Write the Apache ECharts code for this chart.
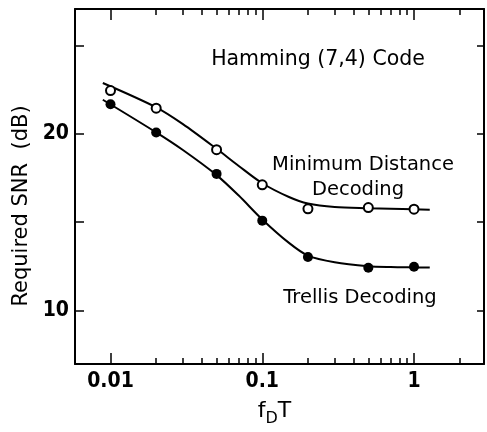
<!DOCTYPE html>
<html>
<head>
<meta charset="utf-8">
<script src="https://cdn.jsdelivr.net/npm/echarts@6/dist/echarts.min.js"></script>
<style>
html,body{margin:0;padding:0;background:#fff;}
#chart{width:487px;height:432px;}
</style>
</head>
<body>
<div id="chart"></div>
<script>
// ---- data ----
const fdT = [0.01, 0.02, 0.05, 0.1, 0.2, 0.5, 1];
const minDistPoints = [22.45, 21.45, 19.10, 17.11, 15.75, 15.82, 15.73];
const trellisPoints = [21.67, 20.07, 17.73, 15.08, 13.02, 12.41, 12.47];

const curveX = [0.0089, 0.02, 0.03, 0.05, 0.07, 0.1, 0.15, 0.2, 0.3, 0.5, 0.7, 1, 1.27];
const minDistCurve = [22.88, 21.5, 20.55, 19.15, 18.18, 17.2, 16.42, 16.05, 15.85, 15.78, 15.75, 15.72, 15.7];
const trellisCurve = [21.93, 20.08, 19.08, 17.66, 16.5, 15.15, 13.82, 13.1, 12.72, 12.5, 12.45, 12.43, 12.42];

const xMajorTicks = [0.01, 0.1, 1];
const xMinorTicks = [0.02,0.03,0.04,0.05,0.06,0.07,0.08,0.09,0.2,0.3,0.4,0.5,0.6,0.7,0.8,0.9,2];
const yTicks = [10, 15, 20, 25];
const yLabels = [10, 20];

const texts = {
  title: 'Hamming (7,4) Code',
  md1: 'Minimum Distance',
  md2: 'Decoding',
  tr: 'Trellis Decoding',
  yName: 'Required SNR  (dB)'
};

const zip = (xs, ys) => xs.map((x, i) => [x, ys[i]]);

const X_MIN = 0.005835, X_MAX = 2.892;
const Y_MIN = 6.96, Y_MAX = 27.07;
const TXT = "'DejaVu Sans', sans-serif";
const NUM = "'Liberation Sans Narrow', 'DejaVu Sans Condensed', 'Roboto Condensed', 'Liberation Sans', sans-serif";

function xAxisDef(pos, ticks, len, showLine, showLabel) {
  return {
    type: 'log', position: pos, min: X_MIN, max: X_MAX,
    axisLine: {show: showLine, onZero: false, lineStyle: {color: '#000', width: 2}},
    axisTick: {show: true, inside: true, length: len, customValues: ticks, lineStyle: {color: '#000', width: 1.5}},
    axisLabel: showLabel ? {show: true, customValues: xMajorTicks, margin: 7, color: '#000',
      fontFamily: NUM, fontWeight: 'bold', fontSize: 21, formatter: v => String(+v)} : {show: false},
    splitLine: {show: false}, minorTick: {show: false}
  };
}

const chart = echarts.init(document.getElementById('chart'), null, {renderer: 'canvas'});
const option = {
  backgroundColor: '#fff',
  animation: false,
  grid: {left: 75, top: 9, width: 409, height: 364},
  xAxis: [
    Object.assign(xAxisDef('bottom', xMajorTicks, 11, true, true), {
      name: '{a|f}{b|D}{a|T}', nameLocation: 'middle', nameGap: 32,
      nameTextStyle: {padding: [0, 10, 0, 0], rich: {
        a: {fontFamily: TXT, fontSize: 22, color: '#000', lineHeight: 26, verticalAlign: 'bottom'},
        b: {fontFamily: TXT, fontSize: 16, color: '#000', lineHeight: 26, verticalAlign: 'bottom', padding: [0, 0, -5, 0]}
      }}
    }),
    xAxisDef('bottom', xMinorTicks, 6, false, false),
    xAxisDef('top', xMajorTicks, 11, true, false),
    xAxisDef('top', xMinorTicks, 6, false, false)
  ],
  yAxis: [
    {
      type: 'value', position: 'left', min: Y_MIN, max: Y_MAX,
      axisLine: {show: true, onZero: false, lineStyle: {color: '#000', width: 2}},
      axisTick: {show: true, inside: true, length: 9, customValues: yTicks, lineStyle: {color: '#000', width: 1.5}},
      axisLabel: {show: true, customValues: yLabels, margin: 6, color: '#000', fontFamily: NUM, fontWeight: 'bold', fontSize: 21},
      splitLine: {show: false}
    },
    {
      type: 'value', position: 'right', min: Y_MIN, max: Y_MAX,
      axisLine: {show: true, onZero: false, lineStyle: {color: '#000', width: 2}},
      axisTick: {show: true, inside: true, length: 7, customValues: yTicks, lineStyle: {color: '#000', width: 1.5}},
      axisLabel: {show: false},
      splitLine: {show: false}
    }
  ],
  series: [
    {type: 'line', data: zip(curveX, minDistCurve), smooth: 0.3, showSymbol: false,
     lineStyle: {color: '#000', width: 2}, z: 2},
    {type: 'line', data: zip(curveX, trellisCurve), smooth: 0.3, showSymbol: false,
     lineStyle: {color: '#000', width: 2}, z: 2},
    {type: 'scatter', data: zip(fdT, minDistPoints), symbol: 'circle', symbolSize: 9,
     itemStyle: {color: '#fff', borderColor: '#000', borderWidth: 2, opacity: 1}, z: 3},
    {type: 'scatter', data: zip(fdT, trellisPoints), symbol: 'circle', symbolSize: 10,
     itemStyle: {color: '#000', opacity: 1}, z: 3}
  ],
  graphic: [
    {type: 'text', x: 22, y: 206, rotation: Math.PI / 2, style: {text: texts.yName, font: '21px ' + TXT, fill: '#000', textAlign: 'center', textVerticalAlign: 'middle'}},
    {type: 'text', x: 318, y: 60, style: {text: texts.title, font: '20.5px ' + TXT, fill: '#000', textAlign: 'center', textVerticalAlign: 'middle'}},
    {type: 'text', x: 363, y: 165, style: {text: texts.md1, font: '19.5px ' + TXT, fill: '#000', textAlign: 'center', textVerticalAlign: 'middle'}},
    {type: 'text', x: 358, y: 190, style: {text: texts.md2, font: '19.5px ' + TXT, fill: '#000', textAlign: 'center', textVerticalAlign: 'middle'}},
    {type: 'text', x: 360, y: 298, style: {text: texts.tr, font: '19.5px ' + TXT, fill: '#000', textAlign: 'center', textVerticalAlign: 'middle'}}
  ]
};
chart.setOption(option);
</script>
</body>
</html>
